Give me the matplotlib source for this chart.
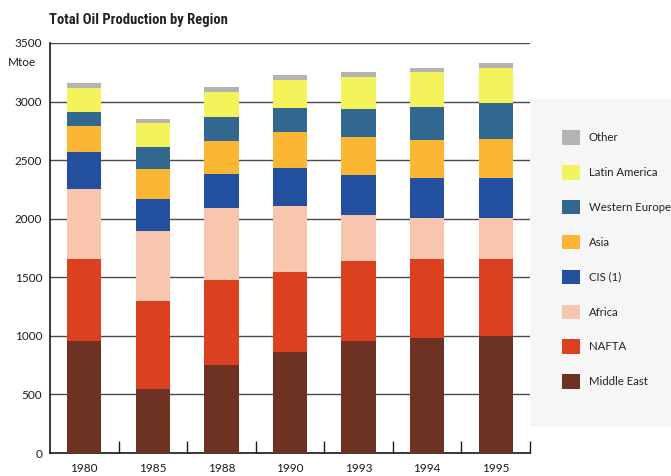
import matplotlib
matplotlib.use("Agg")
import matplotlib.pyplot as plt
from matplotlib.patches import Rectangle
from matplotlib import font_manager
import numpy as np

plt.rcParams['font.family'] = ['Lato', 'DejaVu Sans']

years = ["1980", "1985", "1988", "1990", "1993", "1994", "1995"]

# Production by region, Mtoe (stacked bottom to top)
middle_east = [955, 545, 750, 865, 960, 980, 995]
nafta = [700, 755, 725, 680, 675, 675, 665]
africa = [600, 595, 620, 565, 400, 355, 345]
cis = [315, 270, 285, 320, 340, 340, 345]
asia = [225, 258, 280, 310, 320, 322, 330]
western_europe = [120, 190, 205, 205, 240, 285, 305]
latin_america = [200, 205, 220, 235, 275, 295, 300]
other = [40, 37, 40, 48, 40, 35, 43]

series = [
    ("Middle East", middle_east, "#6d3222"),
    ("NAFTA", nafta, "#db401f"),
    ("Africa", africa, "#f8c6ae"),
    ("CIS (1)", cis, "#22509f"),
    ("Asia", asia, "#fbb634"),
    ("Western Europe", western_europe, "#32678f"),
    ("Latin America", latin_america, "#f3f45c"),
    ("Other", other, "#b3b3b3"),
]

# narrow face for the heading when one is installed
installed = {f.name for f in font_manager.fontManager.ttflist}
title_family = [f for f in ("Roboto Condensed", "Liberation Sans Narrow",
                            "DejaVu Sans Condensed") if f in installed]
title_family = (title_family[:1] or []) + ["Lato", "DejaVu Sans"]

W, H = 671, 476
fig = plt.figure(figsize=(W / 100, H / 100), dpi=100)
fig.patch.set_facecolor("white")

# light panel behind the legend
fig.patches.append(Rectangle((530 / W, 1 - 427 / H), 141 / W, 328 / H,
                             transform=fig.transFigure, facecolor="#f6f6f6",
                             edgecolor="none", zorder=0))

ax = fig.add_axes([50 / W, 1 - 453 / H, 480 / W, 410 / H])
ax.set_facecolor("none")

x = np.arange(len(years))
bottom = np.zeros(len(years))
handles = []
for name, vals, color in series:
    b = ax.bar(x, vals, width=0.5, bottom=bottom, color=color,
               edgecolor="none", zorder=3, label=name)
    handles.append(b)
    bottom += np.array(vals)

ax.set_xlim(-0.5, 6.5)
ax.set_ylim(0, 3500)
ax.set_yticks(np.arange(0, 3501, 500))
ax.yaxis.grid(True, color="#4a4a4a", linewidth=1.0, zorder=1)
ax.set_axisbelow(True)
ax.tick_params(axis="y", length=0, pad=5.5, labelsize=8.5, colors="#1a1a1a")

ax.set_xticks(x)
ax.set_xticklabels(years)
ax.set_xticks(x + 0.5, minor=True)
ax.tick_params(axis="x", which="major", length=0, pad=7, labelsize=8.5,
               colors="#1a1a1a")
ax.tick_params(axis="x", which="minor", direction="in", length=9,
               width=1.0, color="#1a1a1a")

for side in ("top", "right"):
    ax.spines[side].set_visible(False)
for side in ("left", "bottom"):
    ax.spines[side].set_color("#1a1a1a")
    ax.spines[side].set_linewidth(1.2)

fig.text(8 / W, 1 - 62 / H, "Mtoe", fontsize=8.5, va="center", ha="left",
         color="#1a1a1a")
title = fig.text(49 / W, 1 - 20 / H, "Total Oil Production by Region",
                 fontsize=10.5, fontweight="bold", va="center", ha="left",
                 color="#222222", family=title_family)

leg = fig.legend(handles[::-1], [s[0] for s in series][::-1],
                 loc="upper left", bbox_to_anchor=(562 / W, 1 - 130 / H),
                 frameon=False, fontsize=8.2, handlelength=1.6,
                 handleheight=1.6, handletextpad=0.75, labelspacing=1.78,
                 borderpad=0, borderaxespad=0)
for t in leg.get_texts():
    t.set_color("#222222")

fig.savefig("out.png", dpi=100)
